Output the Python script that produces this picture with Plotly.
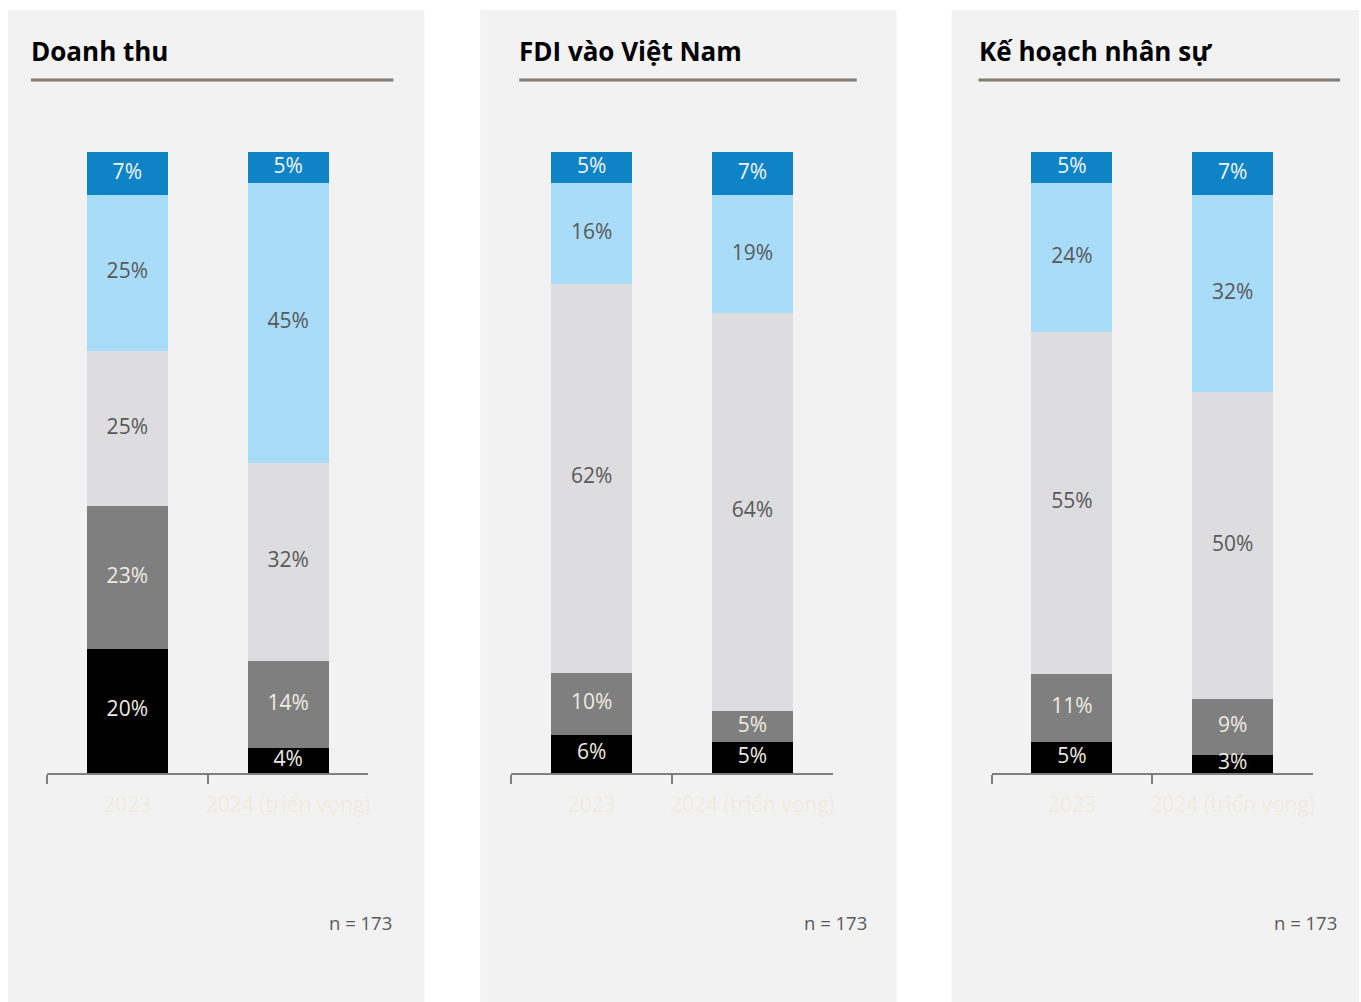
import numpy as np
import plotly.graph_objects as go

categories = ["2023", "2024 (triển vọng)"]
panel_titles = ["Doanh thu", "FDI vào Việt Nam", "Kế hoạch nhân sự"]
sample_note = "n = 173"

# stacked from bottom to top: black, grey, light grey, light blue, dark blue
doanh_thu = [[20, 4], [23, 14], [25, 32], [25, 45], [7, 5]]
fdi = [[6, 5], [10, 5], [62, 64], [16, 19], [5, 7]]
nhan_su = [[5, 3], [11, 9], [55, 50], [24, 32], [5, 7]]
panels = [doanh_thu, fdi, nhan_su]

seg_colors = ["#000000", "#7F7F7F", "#DDDDDF", "#A9DCF9", "#0E84C6"]
text_colors = ["#EEECE1", "#EEECE1", "#595959", "#595959", "#F4F4F4"]

W, H = 1361, 1002
FONT = "Open Sans"

# pixel layout
panel_x = [(8, 425), (481, 898), (953, 1361)]
axis_x = [(47, 369), (512, 834), (993, 1315)]
title_x = [29, 518, 978]
line_x = [(31, 394), (520, 858), (980, 1342)]
note_x = [395, 870, 1341]
plot_top, plot_bot = 152, 773


def px(x):
    return x / W


def py(y):
    return 1 - y / H


fig = go.Figure()
shapes = []
annotations = []

for i, data in enumerate(panels):
    ax = "" if i == 0 else str(i + 1)
    vals = np.array(data, dtype=float)
    norm = vals / vals.sum(axis=0) * 100
    cum = np.cumsum(norm, axis=0)
    mids = cum - norm / 2
    for k in range(len(data)):
        fig.add_trace(go.Bar(
            x=categories, y=norm[k], xaxis="x" + ax, yaxis="y" + ax,
            marker=dict(color=seg_colors[k], line=dict(width=0)),
            showlegend=False, hoverinfo="skip",
        ))
        fig.add_trace(go.Scatter(
            x=categories, y=mids[k], xaxis="x" + ax, yaxis="y" + ax,
            mode="text", text=[f"{v}%" for v in data[k]],
            textfont=dict(family=FONT, size=21, color=text_colors[k]),
            showlegend=False, hoverinfo="skip", cliponaxis=False,
        ))

    fig.layout["xaxis" + ax] = dict(
        domain=[px(axis_x[i][0]), px(axis_x[i][1])],
        anchor="y" + ax, type="category", range=[-0.5, 1.5],
        showline=True, linecolor="#7F7F7F", linewidth=2,
        ticks="outside", tickson="boundaries", ticklen=9, tickwidth=2,
        tickcolor="#7F7F7F", ticklabelstandoff=12, tickangle=0,
        tickfont=dict(family=FONT, size=21, color="#EEECE1"),
        showgrid=False, zeroline=False, fixedrange=True,
    )
    fig.layout["yaxis" + ax] = dict(
        domain=[py(plot_bot), py(plot_top)], anchor="x" + ax,
        range=[0, 100], visible=False, fixedrange=True,
    )

    shapes.append(dict(
        type="rect", xref="paper", yref="paper",
        x0=px(panel_x[i][0]), x1=px(panel_x[i][1]), y0=0, y1=py(10),
        fillcolor="#F2F2F2", line=dict(width=0), layer="below",
    ))
    shapes.append(dict(
        type="line", xref="paper", yref="paper",
        x0=px(line_x[i][0]), x1=px(line_x[i][1]), y0=py(80), y1=py(80),
        line=dict(color="#867B70", width=3),
    ))
    annotations.append(dict(
        text=f"<b>{panel_titles[i]}</b>", xref="paper", yref="paper",
        x=px(title_x[i]), y=py(51), xanchor="left", yanchor="middle",
        showarrow=False, font=dict(family=FONT, size=26, color="#000000"),
    ))
    annotations.append(dict(
        text=sample_note, xref="paper", yref="paper",
        x=px(note_x[i]), y=py(922), xanchor="right", yanchor="middle",
        showarrow=False, font=dict(family=FONT, size=18.5, color="#595959"),
    ))

fig.update_layout(
    width=W, height=H,
    margin=dict(l=0, r=0, t=0, b=0),
    barmode="stack", bargap=0.497,
    paper_bgcolor="#FFFFFF", plot_bgcolor="rgba(0,0,0,0)",
    shapes=shapes, annotations=annotations,
    font=dict(family=FONT),
)

fig.write_html(
    "out.html",
    config={"responsive": False, "displayModeBar": False},
    post_script="document.body.style.margin='0';document.body.style.overflow='hidden';",
)
